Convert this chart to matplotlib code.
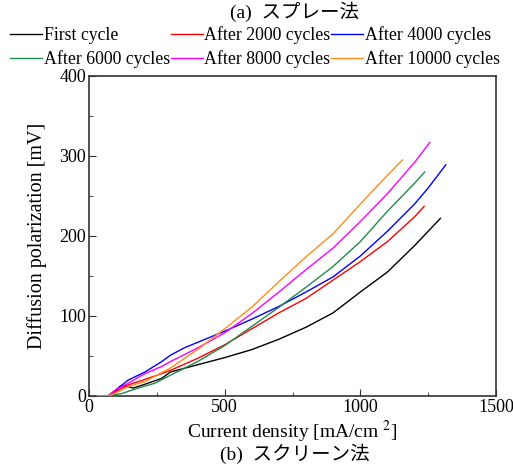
import matplotlib
matplotlib.use('Agg')
import matplotlib.pyplot as plt
from matplotlib.ticker import MultipleLocator

plt.rcParams['font.family'] = ['Liberation Serif', 'Noto Sans CJK JP']
plt.rcParams['mathtext.fontset'] = 'stix'

# values
x_first = [30, 70, 100, 114, 130, 163, 200, 268, 300, 400, 500, 600, 700, 800, 900, 1000, 1100, 1200, 1295]
y_first = [0, 0, 6, 12, 13, 10, 14, 22, 30, 39, 48, 58, 71, 86, 104, 130, 155, 188, 222]

x_2000 = [30, 70, 100, 145, 200, 268, 300, 400, 500, 600, 700, 800, 900, 1000, 1100, 1200, 1235]
y_2000 = [0, 0, 6, 14, 20, 28, 32, 47, 64, 84, 104, 122, 145, 168, 193, 224, 237]

x_4000 = [30, 70, 100, 145, 206, 268, 300, 350, 400, 450, 500, 600, 700, 800, 900, 1000, 1100, 1200, 1250, 1315]
y_4000 = [0, 0, 8, 20, 30, 43, 51, 60, 67, 74, 81, 96, 112, 130, 149, 175, 206, 240, 260, 289]

x_6000 = [30, 70, 100, 120, 182, 243, 300, 400, 500, 600, 700, 800, 900, 1000, 1100, 1200, 1237]
y_6000 = [0, 0, 2, 3, 10, 16, 26, 43, 63, 87, 111, 136, 162, 193, 231, 266, 280]

x_8000 = [30, 70, 100, 145, 200, 268, 300, 400, 500, 600, 700, 800, 900, 1000, 1100, 1200, 1256]
y_8000 = [0, 0, 8, 16, 27, 37, 43, 60, 79, 103, 130, 158, 185, 218, 253, 292, 317]

x_10000 = [30, 70, 100, 145, 206, 300, 400, 500, 600, 700, 800, 900, 1000, 1100, 1155]
y_10000 = [0, 0, 4, 12, 18, 35, 58, 84, 111, 143, 174, 203, 240, 276, 295]

labels = ['First cycle', 'After 2000 cycles', 'After 4000 cycles',
          'After 6000 cycles', 'After 8000 cycles', 'After 10000 cycles']
colors = ['black', '#ff0000', '#0000ff', '#1f8a4c', '#ff00ff', '#ff8c1a']

fig = plt.figure(figsize=(5.13, 4.66), dpi=100)
ax = fig.add_axes([89 / 513, 70 / 466, 407 / 513, 320 / 466])

series = [(x_first, y_first), (x_2000, y_2000), (x_4000, y_4000),
          (x_6000, y_6000), (x_8000, y_8000), (x_10000, y_10000)]
lines = []
for (xs, ys), lab, c in zip(series, labels, colors):
    ln, = ax.plot(xs, ys, color=c, lw=1.0, label=lab, zorder=3)
    lines.append(ln)

ax.set_xlim(0, 1500)
ax.set_ylim(0, 400)
ax.xaxis.set_major_locator(MultipleLocator(500))
ax.xaxis.set_minor_locator(MultipleLocator(250))
ax.yaxis.set_major_locator(MultipleLocator(100))
ax.yaxis.set_minor_locator(MultipleLocator(50))
ax.tick_params(which='both', direction='in', labelsize=13, pad=2, color='#333333')
ax.tick_params(which='major', length=5)
ax.tick_params(which='minor', length=3)
for s in ax.spines.values():
    s.set_color('#333333')
    s.set_linewidth(1.2)

ax.set_xlabel('Current density [mA/cm $^{2}$]', fontsize=14, labelpad=2)
ax.set_ylabel('Diffusion polarization [mV]', fontsize=14.5, labelpad=9)

# legend in row order
order = [0, 3, 1, 4, 2, 5]
fig.legend([lines[i] for i in order], [labels[i] for i in order],
           ncol=3, loc='upper center', bbox_to_anchor=(0.497, 0.962),
           frameon=False, fontsize=12.8, handlelength=1.8, handletextpad=0.1,
           columnspacing=0.05, labelspacing=0.32, borderpad=0)

fig.text(0.575, 1 - 12 / 466, '(a)  スプレー法', ha='center', va='center', fontsize=14)
fig.text(0.575, 1 - 454 / 466, '(b)  スクリーン法', ha='center', va='center', fontsize=14)

fig.savefig('out.png', dpi=100)
